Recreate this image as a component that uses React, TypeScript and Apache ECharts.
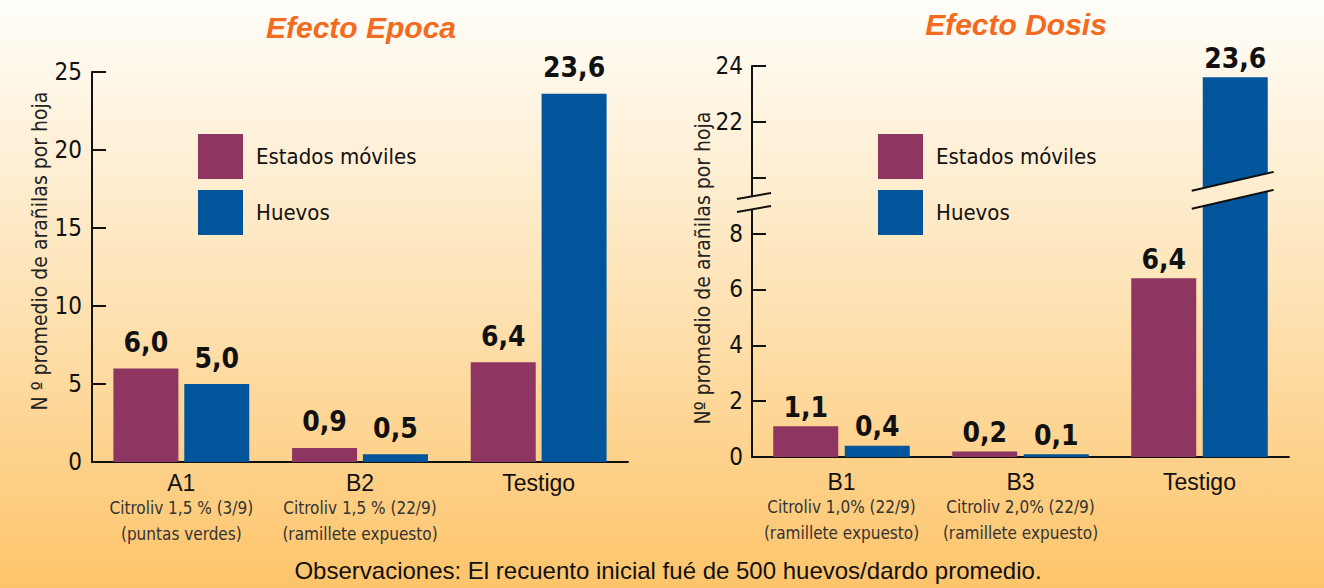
import React, { useEffect, useRef } from "react";
import * as echarts from "echarts";

// ---- Data ----
const seriesNames = ["Estados móviles", "Huevos"];

const epocaCategories = ["A1", "B2", "Testigo"];
const epocaSub1 = ["Citroliv 1,5 % (3/9)", "Citroliv 1,5 % (22/9)", ""];
const epocaSub2 = ["(puntas verdes)", "(ramillete expuesto)", ""];
const epocaMoviles = [6.0, 0.9, 6.4];
const epocaHuevos = [5.0, 0.5, 23.6];

const dosisCategories = ["B1", "B3", "Testigo"];
const dosisSub1 = ["Citroliv 1,0% (22/9)", "Citroliv 2,0% (22/9)", ""];
const dosisSub2 = ["(ramillete expuesto)", "(ramillete expuesto)", ""];
const dosisMoviles = [1.1, 0.2, 6.4];
const dosisHuevos = [0.4, 0.1, 23.6];

// broken axis of the "Efecto Dosis" panel: 0..8 then 20..24
const breakLow = 8;
const breakHigh = 20;
const breakShift = breakHigh - breakLow - 2; // 10 -> one tick step hidden

const titles = ["Efecto Epoca", "Efecto Dosis"];
const yNames = ["N º promedio de arañilas por hoja", "Nº promedio de arañilas por hoja"];
const note = "Observaciones: El recuento inicial fué de 500 huevos/dardo promedio.";

// ---- Styles ----
const NARROW = "'DejaVu Sans Condensed','Liberation Sans Narrow',sans-serif";
const SANS = "'Liberation Sans',Arial,sans-serif";
const C_MAG = "#8E3562";
const C_BLUE = "#02559A";
const C_TITLE = "#F26B21";
const W = 1324;
const H = 588;
const GRID_L = { left: 92, right: 696, top: 72, bottom: 126 };
const GRID_R = { left: 752, right: 35, top: 66, bottom: 131 };

const toAxis = (v: number) => (v <= breakLow ? v : v - breakShift);
const fromAxis = (t: number) => (t <= breakLow ? t : t + breakShift);
const fmt = (v: number) => v.toFixed(1).replace(".", ",");

const bgStops = [
  { offset: 0, color: "#FFFEFA" },
  { offset: 0.5, color: "#FEE3B6" },
  { offset: 1, color: "#FDC46A" },
];

export default function App() {
  const ref = useRef<HTMLDivElement>(null);
  useEffect(() => {
    document.body.style.margin = "0";
    if (!ref.current) return;
    const chart = echarts.init(ref.current, undefined, { renderer: "svg" });

    const catLabel = (names: string[], s1: string[], s2: string[]) => ({
      interval: 0,
      margin: 8,
      formatter: (_v: string, i: number) => {
        const lines = [`{a|${names[i]}}`];
        if (s1[i]) lines.push(`{b|${s1[i]}}`);
        if (s2[i]) lines.push(`{b|${s2[i]}}`);
        return lines.join("\n");
      },
      rich: {
        a: { fontFamily: SANS, fontSize: 23, color: "#111", lineHeight: 25 },
        b: { fontFamily: NARROW, fontSize: 17, color: "#333", lineHeight: 26 },
      },
    });

    const xAxisBase = {
      type: "category" as const,
      axisLine: { lineStyle: { color: "#111", width: 2 } },
      axisTick: { inside: true, length: 12, lineStyle: { color: "#111", width: 2 } },
    };
    const yAxisBase = {
      type: "value" as const,
      splitLine: { show: false },
      axisLine: { show: true, lineStyle: { color: "#111", width: 2 } },
      axisTick: { show: true, inside: true, length: 14, lineStyle: { color: "#111", width: 2 } },
    };

    const labelBase = {
      show: true,
      position: "top" as const,
      fontFamily: NARROW,
      fontWeight: "bold" as const,
      fontSize: 28,
      color: "#111",
    };
    const titleStyle = {
      fontFamily: SANS,
      fontStyle: "italic" as const,
      fontWeight: "bold" as const,
      fontSize: 30,
      color: C_TITLE,
    };
    const legendBase = {
      data: seriesNames,
      orient: "vertical" as const,
      top: 134,
      padding: 0,
      itemWidth: 45,
      itemHeight: 45,
      itemGap: 11,
      icon: "rect",
      selectedMode: false,
      textStyle: { fontFamily: NARROW, fontSize: 22, color: "#111", padding: [0, 0, 0, 8] },
    };

    const option: any = {
      animation: false,
      backgroundColor: new echarts.graphic.LinearGradient(0, 0, 0, 1, bgStops),
      title: [
        { text: titles[0], left: 356, top: 7, textAlign: "center", textStyle: titleStyle },
        { text: titles[1], left: 1011, top: 4, textAlign: "center", textStyle: titleStyle },
      ],
      legend: [
        { ...legendBase, left: 198 },
        { ...legendBase, left: 878 },
      ],
      grid: [GRID_L, GRID_R],
      xAxis: [
        { ...xAxisBase, gridIndex: 0, data: epocaCategories, axisLabel: catLabel(epocaCategories, epocaSub1, epocaSub2) },
        {
          ...xAxisBase,
          gridIndex: 1,
          data: dosisCategories,
          axisLabel: { ...catLabel(dosisCategories, dosisSub1, dosisSub2), margin: 12 },
        },
      ],
      yAxis: [
        {
          ...yAxisBase,
          gridIndex: 0,
          min: 0,
          max: 25,
          interval: 5,
          axisLabel: { fontFamily: NARROW, fontSize: 24, color: "#111", margin: 10 },
        },
        {
          ...yAxisBase,
          gridIndex: 1,
          min: 0,
          max: toAxis(24),
          interval: 2,
          axisLabel: {
            fontFamily: NARROW,
            fontSize: 24,
            color: "#111",
            margin: 9,
            formatter: (t: number) => (t > breakLow && t < toAxis(breakHigh + 2) ? "" : String(fromAxis(t))),
          },
        },
      ],
      series: [
        {
          name: seriesNames[0],
          type: "bar",
          xAxisIndex: 0,
          yAxisIndex: 0,
          data: epocaMoviles,
          barWidth: 65,
          barGap: "9%",
          itemStyle: { color: C_MAG },
          label: { ...labelBase, distance: 12, formatter: (p: any) => fmt(epocaMoviles[p.dataIndex]) },
        },
        {
          name: seriesNames[1],
          type: "bar",
          xAxisIndex: 0,
          yAxisIndex: 0,
          data: epocaHuevos,
          barWidth: 65,
          barGap: "9%",
          itemStyle: { color: C_BLUE },
          label: { ...labelBase, distance: 12, formatter: (p: any) => fmt(epocaHuevos[p.dataIndex]) },
        },
        {
          name: seriesNames[0],
          type: "bar",
          xAxisIndex: 1,
          yAxisIndex: 1,
          data: dosisMoviles.map(toAxis),
          barWidth: 65,
          barGap: "10%",
          itemStyle: { color: C_MAG },
          label: { ...labelBase, distance: 5, formatter: (p: any) => fmt(dosisMoviles[p.dataIndex]) },
        },
        {
          name: seriesNames[1],
          type: "bar",
          xAxisIndex: 1,
          yAxisIndex: 1,
          data: dosisHuevos.map(toAxis),
          barWidth: 65,
          barGap: "10%",
          itemStyle: { color: C_BLUE },
          label: { ...labelBase, distance: 5, formatter: (p: any) => fmt(dosisHuevos[p.dataIndex]) },
        },
      ],
    };
    chart.setOption(option);

    const textGraphics: any[] = [
      {
        type: "text",
        x: W / 2 + 6,
        y: 570,
        style: { text: note, fontFamily: SANS, fontSize: 24, fill: "#111", align: "center", verticalAlign: "middle" },
      },
      {
        type: "text",
        x: 40,
        y: 251,
        rotation: Math.PI / 2,
        style: { text: yNames[0], fontFamily: NARROW, fontSize: 21, fill: "#222", align: "center", verticalAlign: "middle" },
      },
      {
        type: "text",
        x: 703,
        y: 268,
        rotation: Math.PI / 2,
        style: { text: yNames[1], fontFamily: NARROW, fontSize: 21, fill: "#222", align: "center", verticalAlign: "middle" },
      },
    ];

    // break marks, placed from the axis scale
    const bgFill = new echarts.graphic.LinearGradient(0, 0, 0, H, bgStops, true);
    const breakMark = (cx: number, cy: number, left: number, right: number, slope: number, sep: number) => {
      const y = (x: number) => cy - (x - cx) * slope;
      const l1 = [
        [cx - left, y(cx - left) - sep / 2],
        [cx + right, y(cx + right) - sep / 2],
      ];
      const l2 = [
        [cx - left, y(cx - left) + sep / 2],
        [cx + right, y(cx + right) + sep / 2],
      ];
      return [
        { type: "polygon", z: 100, shape: { points: [l1[0], l1[1], l2[1], l2[0]] }, style: { fill: bgFill } },
        { type: "polyline", z: 101, shape: { points: l1 }, style: { stroke: "#111", lineWidth: 2, fill: null } },
        { type: "polyline", z: 101, shape: { points: l2 }, style: { stroke: "#111", lineWidth: 2, fill: null } },
      ];
    };
    const axisBreakY = chart.convertToPixel({ yAxisIndex: 1 }, breakLow + 1.1) as number;
    const barBreakY = chart.convertToPixel({ yAxisIndex: 1 }, breakLow + 1.55) as number;
    let barCx = W - GRID_R.right - 50;
    let barW = 65;
    try {
      const lay = (chart as any).getModel().getSeriesByIndex(3).getData().getItemLayout(2);
      barCx = lay.x + lay.width / 2;
      barW = Math.abs(lay.width);
    } catch (e) {}
    chart.setOption({
      graphic: [
        ...textGraphics,
        ...breakMark(GRID_R.left, axisBreakY, 15, 19, 6 / 34, 13),
        ...breakMark(barCx - 2.5, barBreakY, barW / 2 + 8.5, barW / 2 + 8.5, 19 / 83, 18),
      ],
    });

    return () => chart.dispose();
  }, []);
  return <div ref={ref} style={{ width: W, height: H }} />;
}
